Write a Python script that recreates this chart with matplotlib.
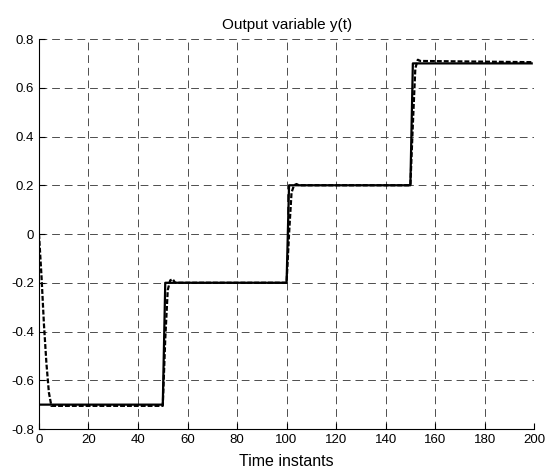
import numpy as np
import matplotlib.pyplot as plt

plt.rcParams['font.family'] = ['Liberation Sans', 'DejaVu Sans']

# reference signal (solid)
t_ref = [0, 50, 51, 100, 101, 150, 151, 199]
y_ref = [-0.7, -0.7, -0.2, -0.2, 0.2, 0.2, 0.7, 0.7]

# output y(t) (dashed)
t_out = [0, 1, 2, 3, 4, 5, 50, 51, 52, 53, 54, 55,
         100, 101, 102, 103, 104, 105, 150, 151, 152, 153, 154, 199]
y_out = [0.0, -0.17, -0.37, -0.53, -0.65, -0.705, -0.705, -0.43, -0.23, -0.19, -0.185, -0.2,
         -0.2, 0.0, 0.17, 0.2, 0.205, 0.2, 0.2, 0.45, 0.68, 0.715, 0.71, 0.705]

xticks = np.arange(0, 201, 20)
yticks = [-0.8, -0.6, -0.4, -0.2, 0, 0.2, 0.4, 0.6, 0.8]
ytick_labels = ['-0.8', '-0.6', '-0.4', '-0.2', '0', '0.2', '0.4', '0.6', '0.8']

fig = plt.figure(figsize=(5.49, 4.73), dpi=100)
ax = fig.add_axes([0.071, 0.093, 0.902, 0.8245])

ax.plot(t_ref, y_ref, color='black', lw=1.6)
ax.plot(t_out, y_out, color='black', lw=1.6, linestyle=(0, (2.2, 0.9)))

ax.set_xlim(0, 200)
ax.set_ylim(-0.8, 0.8)
ax.set_xticks(xticks)
ax.set_yticks(yticks)
ax.set_yticklabels(ytick_labels)
ax.grid(True, color='0.3', linestyle=(0, (8, 5)), lw=0.7)
ax.tick_params(direction='in', labelsize=9.5, length=4, width=0.8)
for s in ['top', 'right']:
    ax.spines[s].set_visible(False)
for s in ['left', 'bottom']:
    ax.spines[s].set_linewidth(0.8)

ax.set_title('Output variable y(t)', fontsize=11, pad=7)
ax.set_xlabel('Time instants', fontsize=11.5, labelpad=6)

fig.savefig('out.png', dpi=100)
